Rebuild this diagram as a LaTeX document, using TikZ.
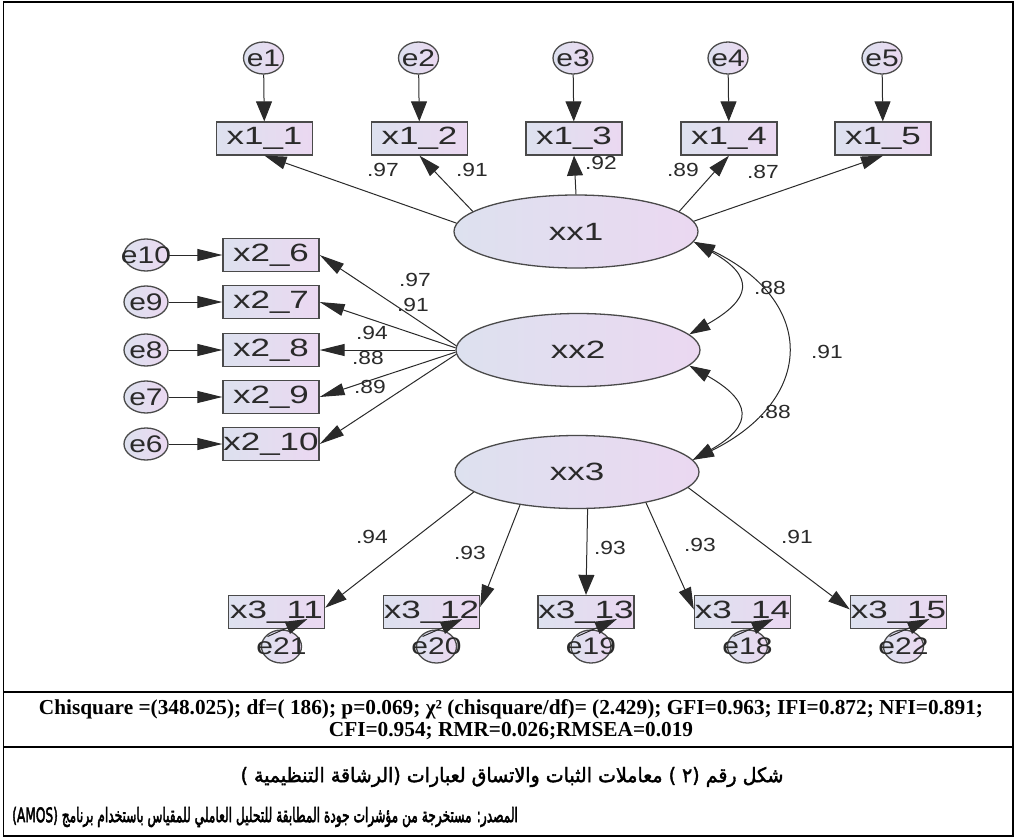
\documentclass[tikz,border=0pt]{standalone}
\usepackage{fontspec}
\usepackage{graphicx}
\setmainfont{Liberation Sans}
\newfontfamily\amosfont[FakeStretch=1.4]{Liberation Sans}
\newfontfamily\amoserrfont[FakeStretch=1.25]{Liberation Sans}
\newfontfamily\amosnumfont[FakeStretch=1.2]{Liberation Sans}
\newfontfamily\chifont{Liberation Serif}
\newfontfamily\arabicfont[Script=Arabic,FakeBold=2]{DejaVu Sans}
\newfontfamily\arabicsrcfont[Script=Arabic,FakeBold=3.2]{DejaVu Sans}
\TeXXeTstate=1
\usetikzlibrary{arrows.meta,shapes.geometric,calc}
\definecolor{bord}{HTML}{4A4A4A}
\definecolor{shL}{HTML}{DDE1EF}
\definecolor{shR}{HTML}{EBD8F1}
\definecolor{ink}{HTML}{2A2A2A}
\newcommand\amosbig{\amosfont\fontsize{25}{25}\selectfont}
\newcommand\amoserr{\amoserrfont\fontsize{24}{24}\selectfont}
\newcommand\amosnum{\amosnumfont\fontsize{19}{19}\selectfont}
\tikzset{
  obs/.style={rectangle, draw=bord, line width=1.3pt, minimum width=96pt, minimum height=33pt,
    inner sep=0pt, left color=shL, right color=shR, font=\amosbig, text=ink},
  lat/.style={ellipse, draw=bord, line width=1.3pt, minimum width=244pt, minimum height=73pt,
    inner sep=0pt, left color=shL, right color=shR, font=\amosbig, text=ink},
  err/.style={ellipse, draw=bord, line width=1.3pt, minimum width=40pt, minimum height=32pt,
    inner sep=0pt, left color=shL, right color=shR},
  errt/.style={inner sep=0pt, font=\amoserr, text=ink},
  ld/.style={-{Triangle[length=22pt,width=13pt]}, line width=1pt, draw=ink},
  ldv/.style={-{Triangle[length=20pt,width=16pt]}, line width=1pt, draw=ink},
  ldh/.style={-{Triangle[length=25pt,width=12pt]}, line width=1pt, draw=ink},
  cv/.style={{Triangle[length=21pt,width=13pt]}-{Triangle[length=21pt,width=13pt]}, line width=1pt, draw=ink},
  num/.style={font=\amosnum, text=ink, inner sep=0pt},
  frame/.style={line width=1.8pt, draw=black},
}
\begin{document}
\begin{tikzpicture}[x=1pt,y=-1pt]
\useasboundingbox (0,0) rectangle (1018,838);
% table frame
\draw[frame] (3.5,2) rectangle (1013,836);
\draw[frame] (3.5,692) -- (1013,692);
\draw[frame] (3.5,747) -- (1013,747);

% latent variables
\node[lat] (xx1) at (576,231.5) {xx1};
\node[lat] (xx2) at (578,350) {xx2};
\node[lat] (xx3) at (577,472) {xx3};

% top indicators
\foreach \n/\x/\t in {1/264.5/x1\_1, 2/419.5/x1\_2, 3/574/x1\_3, 4/729/x1\_4, 5/883/x1\_5}{
  \node[obs] (x1\n) at (\x,138.5) {\t};
  \node[err] (e\n) at (\x-1,58) {};
  \node[errt] (e\n t) at (e\n) {e\n};
  \draw[ldv] (e\n) -- (x1\n);
}
% left indicators
\foreach \n/\y/\t/\e in {6/255/x2\_6/10, 7/302/x2\_7/9, 8/350/x2\_8/8, 9/397/x2\_9/7, 10/444/x2\_10/6}{
  \node[obs] (x2\n) at (271,\y) {\t};
  \node[err, minimum width=44pt] (e\e) at (146,\y) {};
  \node[errt] (e\e t) at (e\e) {e\e};
  \draw[ldh] (e\e) -- (x2\n);
}
% bottom indicators
\foreach \n/\x/\e in {11/276.5/21, 12/431.5/20, 13/586/19, 14/742.5/18, 15/898.5/22}{
  \node[obs] (x3\n) at (\x,612) {x3\_\n};
  \node[err, minimum height=33pt] (e\e) at (\x+5,646.5) {};
  \node[errt] (e\e t) at (e\e) {e\e};
  \draw[ld] ($(e\e.center)+(-14,-10)$) -- ($(x3\n.center)+(31,7)$);
}

% loadings xx1
\draw[ld] (xx1.176) -- (x11.south);
\draw[ld] (xx1.169) -- (x12.south);
\draw[ldv] (xx1.90) -- (x13.south);
\draw[ld] (xx1.11) -- (x14.south);
\draw[ld] (xx1.5) -- (x15.south);
% loadings xx2
\draw[ldh] (xx2.178) -- (x26.east);
\draw[ldh] (xx2.179) -- (x27.east);
\draw[ldh] (xx2.180) -- (x28.east);
\draw[ldh] (xx2.181) -- (x29.east);
\draw[ldh] (xx2.182) -- (x210.east);
% loadings xx3
\draw[ld] (xx3.191) -- (x311.5);
\draw[ld] (xx3.210) -- (x312.6);
\draw[ldv] (xx3.-74) -- (x313.north);
\draw[ld] (xx3.-24) -- (x314.177);
\draw[ld] (xx3.-8) -- (x315.177);

% covariances
\draw[cv] (xx1.-5) .. controls +(62,35) and +(62,-35) .. (xx2.8);
\draw[cv] (xx2.-8) .. controls +(62,35) and +(62,-35) .. (xx3.6);
\draw[cv] (xx1.-5) .. controls +(124,60) and +(122,-60) .. (xx3.6);

% coefficient labels
\node[num] (l1) at (383,170) {.97};
\node[num] (l2) at (472,170) {.91};
\node[num] (l3) at (601,163) {.92};
\node[num] (l4) at (683,170) {.89};
\node[num] (l5) at (763,172) {.87};
\node[num] (l6) at (415,280) {.97};
\node[num] (l7) at (413,305) {.91};
\node[num] (l8) at (372,333) {.94};
\node[num] (l9) at (368,358) {.88};
\node[num] (l10) at (370,387) {.89};
\node[num] (l11) at (372,537) {.94};
\node[num] (l12) at (470,553) {.93};
\node[num] (l13) at (610,548) {.93};
\node[num] (l14) at (700,545) {.93};
\node[num] (l15) at (797,537) {.91};
\node[num] (c1) at (770,288) {.88};
\node[num] (c2) at (827,352) {.91};
\node[num] (c3) at (775,412) {.88};

% fit statistics
\node[font=\chifont\bfseries\fontsize{21.3}{22}\selectfont, align=center, inner sep=0pt] (fit) at (511,720)
 {Chisquare =(348.025); df=( 186); p=0.069; χ² (chisquare/df)= (2.429); GFI=0.963; IFI=0.872; NFI=0.891;\\
  CFI=0.954; RMR=0.026;RMSEA=0.019};

% caption
\node[font=\arabicfont\fontsize{20}{20}\selectfont, inner sep=0pt] (cap) at (512,777)
 {\scalebox{0.95}[1]{\beginR شكل رقم (٢ ) معاملات الثبات والاتساق لعبارات (الرشاقة التنظيمية )\endR}};
\node[font=\arabicsrcfont\fontsize{20}{20}\selectfont, inner sep=0pt, anchor=west] (src) at (12,817)
 {\scalebox{0.61}[1]{\beginR المصدر: مستخرجة من مؤشرات جودة المطابقة للتحليل العاملي للمقياس باستخدام برنامج \beginL(AMOS)\endL\endR}};
\end{tikzpicture}
\end{document}
